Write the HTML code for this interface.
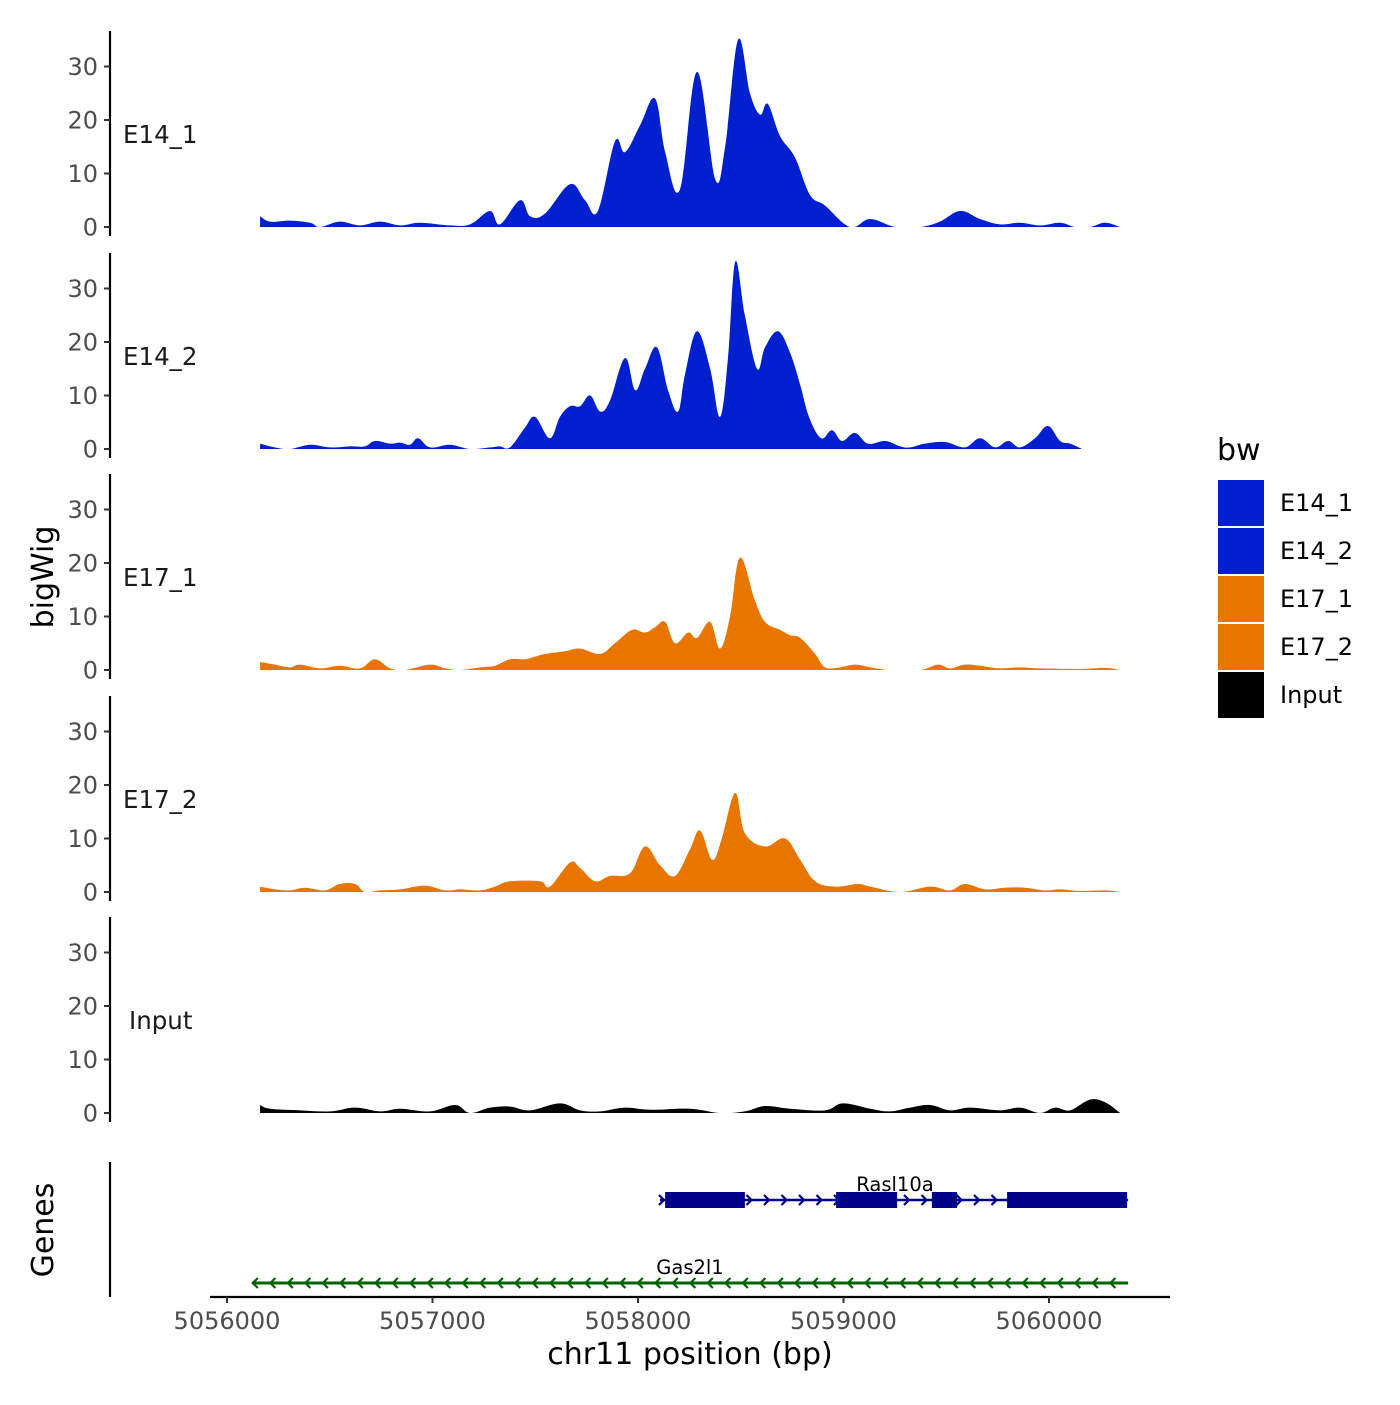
<!DOCTYPE html>
<html><head><meta charset="utf-8"><style>
body{margin:0;background:#fff}
svg text{font-family:"DejaVu Sans","Liberation Sans",sans-serif}
</style></head><body>
<svg id="chart" width="1400" height="1400" viewBox="0 0 1400 1400" xmlns="http://www.w3.org/2000/svg">
<rect width="1400" height="1400" fill="#fff"/>
<g id="tracks"></g>
<g id="genes"></g>
<g id="axes"></g>
<text transform="translate(53,577) rotate(-90)" text-anchor="middle" font-size="30" fill="#000">bigWig</text>
<text transform="translate(53,1230) rotate(-90)" text-anchor="middle" font-size="30" fill="#000">Genes</text>
<text x="690" y="1364" text-anchor="middle" font-size="30" fill="#000">chr11 position (bp)</text>
<g id="legend"></g>
</svg>
<script>
const xTicks=[5056000,5057000,5058000,5059000,5060000];
const yTicks=[0,10,20,30];
const trackNames=["E14_1","E14_2","E17_1","E17_2","Input"];
const trackColors=["#0020CF","#0020CF","#E87500","#E87500","#000000"];
const e14_1Pos=[5056161,5056210,5056306,5056404,5056453,5056549,5056647,5056745,5056842,5056939,5057085,5057183,5057280,5057328,5057426,5057475,5057547,5057669,5057742,5057805,5057888,5057937,5058010,5058083,5058132,5058204,5058287,5058375,5058424,5058487,5058545,5058594,5058632,5058691,5058764,5058837,5058910,5059032,5059130,5059251,5059373,5059469,5059567,5059664,5059762,5059859,5059956,5060054,5060126,5060199,5060273,5060346];
const e14_1Val=[2,1,1.2,0.8,0,1,0.3,1,0.3,0.8,0.3,0.5,3,0.5,5,2,2.5,8,5,3,16,14,19,24,14,7,29,9,15,35,25,21,23,17,13,6,4,0,1.5,0,0,1,3,1.5,0.5,0.8,0.3,0.8,0,0,0.8,0];
const e14_2Pos=[5056161,5056233,5056306,5056404,5056502,5056598,5056671,5056720,5056794,5056842,5056890,5056930,5056988,5057085,5057183,5057280,5057328,5057377,5057450,5057499,5057571,5057620,5057669,5057718,5057767,5057816,5057863,5057937,5057986,5058034,5058092,5058146,5058195,5058229,5058287,5058351,5058399,5058438,5058473,5058520,5058579,5058618,5058681,5058740,5058789,5058832,5058891,5058944,5058993,5059056,5059119,5059202,5059275,5059324,5059397,5059494,5059591,5059664,5059738,5059801,5059859,5059932,5059995,5060054,5060103,5060161];
const e14_2Val=[1,0.3,0,0.8,0.3,0.5,0.5,1.5,1,1.2,0.8,2,0.3,0.8,0,0.3,0.5,0.3,4,6,2,6,8,8,10,7,9,17,11,15,19,11,7,14,22,15,6,17,35,25,15,19,22,18,12,6,2,3.5,1.5,3,1,1.5,0.5,0.3,1,1.3,0.3,2,0.3,1.5,0.3,2,4.3,1.5,1,0];
const e17_1Pos=[5056161,5056233,5056306,5056355,5056453,5056549,5056647,5056720,5056794,5056867,5056988,5057061,5057134,5057231,5057304,5057377,5057450,5057499,5057547,5057645,5057718,5057816,5057888,5057971,5058034,5058083,5058132,5058180,5058244,5058287,5058351,5058399,5058448,5058496,5058569,5058618,5058691,5058740,5058789,5058862,5058910,5058983,5059056,5059130,5059226,5059373,5059460,5059518,5059591,5059664,5059762,5059859,5059956,5060151,5060273,5060346];
const e17_1Val=[1.5,1,0.5,1,0.3,0.8,0.3,2,0.3,0,1,0.3,0,0.5,0.8,2,2,2.5,3,3.5,4,3,5,7.5,7,8,9,5,7,6,9,4,10,21,13,9,7.5,6.5,6,3,0.5,0.5,1,0.5,0,0,1,0.3,1,0.8,0.3,0.5,0.3,0.2,0.4,0];
const e17_2Pos=[5056161,5056233,5056306,5056380,5056477,5056549,5056623,5056671,5056745,5056842,5056963,5057061,5057134,5057231,5057304,5057377,5057523,5057571,5057669,5057718,5057791,5057863,5057961,5058034,5058107,5058180,5058253,5058302,5058361,5058408,5058473,5058520,5058618,5058716,5058789,5058862,5058959,5059071,5059130,5059275,5059421,5059518,5059591,5059689,5059786,5059883,5059981,5060054,5060151,5060273,5060346];
const e17_2Val=[1,0.5,0.3,0.8,0.3,1.5,1.5,0,0.3,0.5,1.2,0.3,0.5,0.3,1,2,2,1,5.5,4.5,2,3,3.5,8.5,5,3,8,11.5,6,10,18.5,11,8.5,10,6,2,1,1.5,1,0,1,0.3,1.5,0.5,0.8,0.8,0.3,0.5,0.2,0.3,0];
const inputPos=[5056161,5056210,5056355,5056502,5056623,5056745,5056842,5056988,5057110,5057183,5057280,5057377,5057475,5057620,5057718,5057816,5057937,5058059,5058253,5058399,5058520,5058618,5058740,5058910,5058997,5059130,5059226,5059324,5059421,5059518,5059616,5059762,5059859,5059956,5060030,5060103,5060199,5060273,5060346];
const inputVal=[1.5,0.8,0.5,0.3,1,0.3,0.8,0.3,1.5,0,1,1.2,0.5,1.8,0.5,0.3,1,0.6,0.8,0,0.3,1.3,0.8,0.5,1.8,0.8,0.3,1,1.5,0.5,1,0.5,1,0,1,0.5,2.5,2,0];
const trackPos=[e14_1Pos,e14_2Pos,e17_1Pos,e17_2Pos,inputPos];
const trackVal=[e14_1Val,e14_2Val,e17_1Val,e17_2Val,inputVal];
const rasStart=5058107, rasEnd=5060385;
const rasExonStart=[5058132,5058964,5059430,5059796];
const rasExonEnd=[5058520,5059261,5059553,5060380];
const gasStart=5056121, gasEnd=5060385;

const NS="http://www.w3.org/2000/svg";
function xs(bp){return 227+(bp-5056000)*0.2055;}
const panelBase=[227,449,670,892,1113];
function ys(i,v){return panelBase[i]-v*5.35;}
function mk(tag,attrs,parent){const e=document.createElementNS(NS,tag);for(const k in attrs)e.setAttribute(k,attrs[k]);parent.appendChild(e);return e;}
const tracks=document.getElementById('tracks');
const axes=document.getElementById('axes');
const defs=mk('defs',{},tracks);
for(let i=0;i<5;i++){
  const pts=trackPos[i].map((p,j)=>[xs(p),ys(i,trackVal[i][j])]);
  const cp=mk('clipPath',{id:'c'+i},defs);
  mk('rect',{x:0,y:panelBase[i]-220,width:1400,height:220},cp);
  let d=`M${pts[0][0]},${panelBase[i]}L${pts[0][0]},${pts[0][1]}`;
  for(let j=0;j<pts.length-1;j++){
    const p0=pts[Math.max(0,j-1)],p1=pts[j],p2=pts[j+1],p3=pts[Math.min(pts.length-1,j+2)];
    const t=0.18;
    d+=`C${p1[0]+(p2[0]-p0[0])*t},${p1[1]+(p2[1]-p0[1])*t} ${p2[0]-(p3[0]-p1[0])*t},${p2[1]-(p3[1]-p1[1])*t} ${p2[0]},${p2[1]}`;
  }
  d+=`L${pts[pts.length-1][0]},${panelBase[i]}Z`;
  const a=mk('path',{d:d,fill:trackColors[i],'clip-path':`url(#c${i})`},tracks);
  
  
  const top=panelBase[i]-196, bot=panelBase[i]+9;
  const ax=mk('line',{x1:110,x2:110,y1:top,y2:bot,stroke:'#000','stroke-width':2.2},axes);
  
  
  yTicks.forEach(v=>{
    const y=ys(i,v);
    mk('line',{x1:104,x2:110,y1:y,y2:y,stroke:'#333','stroke-width':2},axes);
    const t=mk('text',{x:98,y:y+8.5,'text-anchor':'end','font-size':24,fill:'#4d4d4d'},axes);
    t.textContent=v;
    
    
  });
  const lab=mk('text',{x:trackNames[i]==='Input'?129:123,y:panelBase[i]-84,'font-size':24.5,fill:'#1a1a1a'},axes);
  lab.textContent=trackNames[i];
  
  
}
const genes=document.getElementById('genes');
const gAx=mk('line',{x1:110,x2:110,y1:1162,y2:1297,stroke:'#000','stroke-width':2.2},axes);


const rasY=1200, gasY=1283;
const rl=mk('line',{x1:xs(rasStart),x2:xs(rasEnd),y1:rasY,y2:rasY,stroke:'#00008B','stroke-width':2.5},genes);


for(let x=xs(rasStart)+2;x<xs(rasEnd);x+=17.5){
  mk('path',{d:`M${x-3},${rasY-5}L${x+2},${rasY}L${x-3},${rasY+5}`,stroke:'#00008B','stroke-width':2.2,fill:'none'},genes);
}
rasExonStart.forEach((s,k)=>{
  const r=mk('rect',{x:xs(s),y:rasY-8,width:xs(rasExonEnd[k])-xs(s),height:16,fill:'#00008B'},genes);
  
  
});
const rt=mk('text',{x:895,y:1191,'text-anchor':'middle','font-size':19.5,fill:'#000'},genes);
rt.textContent='Rasl10a';


const gl=mk('line',{x1:xs(gasStart),x2:xs(gasEnd),y1:gasY,y2:gasY,stroke:'#006400','stroke-width':3},genes);


for(let x=xs(gasStart)+3;x<xs(gasEnd)-5;x+=17.5){
  mk('path',{d:`M${x+3},${gasY-5}L${x-2},${gasY}L${x+3},${gasY+5}`,stroke:'#006400','stroke-width':2.2,fill:'none'},genes);
}
const gt=mk('text',{x:690,y:1274,'text-anchor':'middle','font-size':19.5,fill:'#000'},genes);
gt.textContent='Gas2l1';


const xa=mk('line',{x1:210,x2:1170,y1:1297,y2:1297,stroke:'#000','stroke-width':2.2},axes);


xTicks.forEach(v=>{
  const x=xs(v);
  mk('line',{x1:x,x2:x,y1:1297,y2:1303,stroke:'#333','stroke-width':2},axes);
  const t=mk('text',{x:x,y:1329,'text-anchor':'middle','font-size':24,fill:'#4d4d4d'},axes);
  t.textContent=v;
  
  
});
const lg=document.getElementById('legend');
const lt=mk('text',{x:1217,y:460,'font-size':30,fill:'#000'},lg);
lt.textContent='bw';


trackNames.forEach((n,k)=>{
  const y=480+k*48;
  const r=mk('rect',{x:1218,y:y,width:46,height:46,fill:trackColors[k]},lg);
  
  
  const t=mk('text',{x:1280,y:y+31,'font-size':24,fill:'#000'},lg);
  t.textContent=n;
  
  
});
</script>
</body></html>
